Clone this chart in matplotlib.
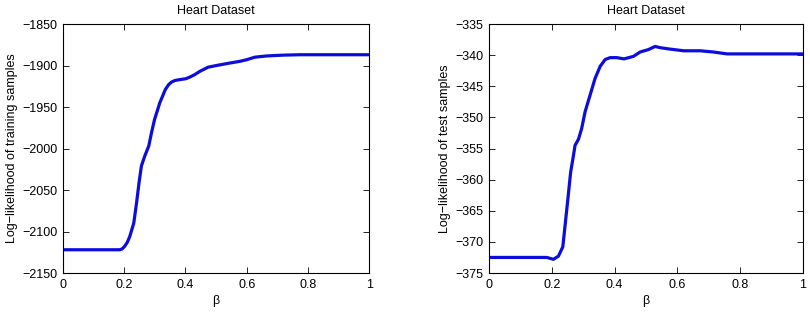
import matplotlib
matplotlib.use('Agg')
import matplotlib.pyplot as plt

# training log-likelihood vs beta
beta_train = [0.0, 0.185, 0.193, 0.201, 0.210, 0.218, 0.231, 0.240, 0.248, 0.256, 0.267, 0.280,
              0.289, 0.299, 0.316, 0.334, 0.345, 0.354, 0.366, 0.381, 0.400, 0.414, 0.430,
              0.447, 0.474, 0.501, 0.545, 0.577, 0.600, 0.626, 0.664, 0.719, 0.773, 1.0]
ll_train = [-2122, -2122, -2121, -2118, -2113, -2106, -2090, -2066, -2042, -2021, -2009, -1997,
            -1981, -1965, -1945, -1929, -1923, -1920, -1918, -1917, -1916, -1914, -1911,
            -1907, -1902, -1900, -1897, -1895, -1893, -1890, -1888.5, -1887.5, -1887, -1887]

# test log-likelihood vs beta (right panel)
beta_test = [0.0, 0.184, 0.205, 0.221, 0.235, 0.242, 0.251, 0.260, 0.269, 0.274,
             0.285, 0.295, 0.306, 0.322, 0.338, 0.354, 0.370, 0.386, 0.407, 0.430,
             0.460, 0.481, 0.508, 0.529, 0.545, 0.572, 0.620, 0.673, 0.715, 0.758, 1.0]
ll_test = [-372.5, -372.5, -372.8, -372.3, -370.8, -367.5, -363.2, -358.8, -356.1, -354.5,
           -353.5, -351.8, -349.1, -346.4, -343.7, -341.8, -340.7, -340.4, -340.4, -340.6,
           -340.2, -339.5, -339.1, -338.6, -338.8, -339.0, -339.3, -339.3, -339.5, -339.8, -339.8]

plt.rcParams['font.family'] = ['Liberation Sans', 'DejaVu Sans']
plt.rcParams['font.size'] = 9

fig = plt.figure(figsize=(8.1, 3.12), dpi=100)
ax1 = fig.add_axes([0.0778, 0.125, 0.378, 0.798])
ax2 = fig.add_axes([0.6037, 0.125, 0.3877, 0.798])

line_color = '#0c0cdc'

ax1.plot(beta_train, ll_train, color=line_color, linewidth=2.3, solid_joinstyle='round')
ax1.set_xlim(0, 1)
ax1.set_ylim(-2150, -1850)
ax1.set_yticks(range(-2150, -1849, 50))
ax1.set_ylabel('Log\u2212likelihood of training samples', labelpad=3)

ax2.plot(beta_test, ll_test, color=line_color, linewidth=2.3, solid_joinstyle='round')
ax2.set_xlim(0, 1)
ax2.set_ylim(-375, -335)
ax2.set_yticks(range(-375, -334, 5))
ax2.set_ylabel('Log\u2212likelihood of test samples', labelpad=3)

for ax in (ax1, ax2):
    ax.set_xticks([0, 0.2, 0.4, 0.6, 0.8, 1])
    ax.set_xticklabels(['0', '0.2', '0.4', '0.6', '0.8', '1'])
    ax.set_xlabel('\u03b2', labelpad=3)
    ax.set_title('Heart Dataset', fontsize=9, pad=7)
    ax.tick_params(direction='in', top=True, right=True, length=4, width=0.6, pad=4)
    for s in ax.spines.values():
        s.set_linewidth(0.8)

fig.savefig('out.png', dpi=100)
